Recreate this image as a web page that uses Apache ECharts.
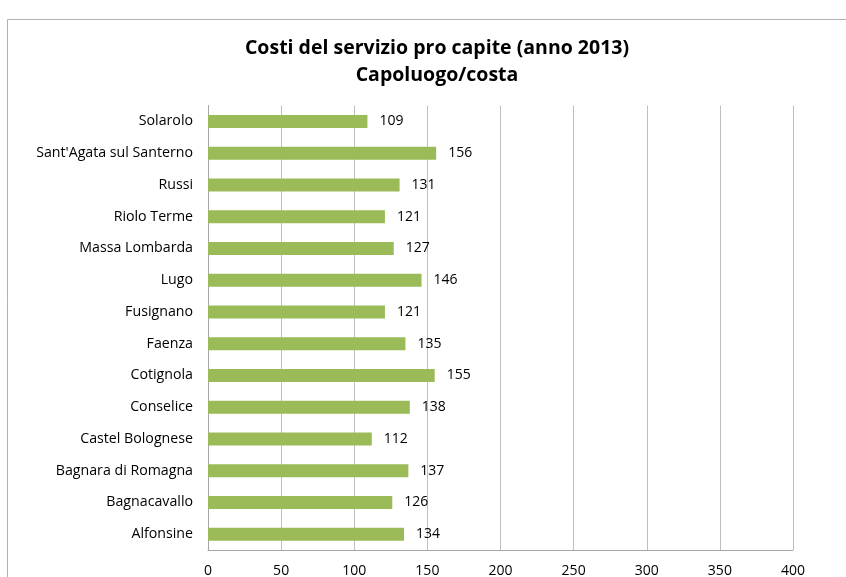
<!DOCTYPE html>
<html><head><meta charset="utf-8">
<script src="https://cdn.jsdelivr.net/npm/echarts@6/dist/echarts.min.js"></script>
<style>html,body{margin:0;padding:0;background:#fff}#c{width:846px;height:577px}</style>
</head><body><div id="c"></div>
<script>
const categories = ["Alfonsine","Bagnacavallo","Bagnara di Romagna","Castel Bolognese","Conselice","Cotignola","Faenza","Fusignano","Lugo","Massa Lombarda","Riolo Terme","Russi","Sant'Agata sul Santerno","Solarolo"];
const values = [134,126,137,112,138,155,135,121,146,127,121,131,156,109];
const titleLines = ["Costi del servizio pro capite (anno 2013)","Capoluogo/costa"];
const FONT = "'Open Sans', 'Noto Sans', sans-serif";
const chart = echarts.init(document.getElementById('c'));
chart.setOption({
  animation:false,
  backgroundColor:'#fff',
  graphic:[{type:'rect',shape:{x:7.5,y:19.5,width:860,height:600},style:{fill:'none',stroke:'#B0B0B0',lineWidth:1},z:-1}],
  title:{text:titleLines.join('\n'),left:432,top:30,textAlign:'center',
    textStyle:{fontFamily:FONT,fontWeight:'bold',fontSize:19.5,color:'#000',lineHeight:27}},
  grid:{left:208,right:53,top:105.5,bottom:27,containLabel:false,outerBoundsMode:'none'},
  xAxis:{type:'value',min:0,max:400,interval:50,
    axisLine:{show:true,lineStyle:{color:'#A6A6A6'}},axisTick:{show:false},
    splitLine:{show:true,lineStyle:{color:'#BFBFBF',width:1}},
    axisLabel:{fontFamily:FONT,fontSize:14,color:'#000',margin:14}},
  yAxis:{type:'category',data:categories,
    axisLine:{show:true,lineStyle:{color:'#A6A6A6'}},axisTick:{show:false},
    axisLabel:{fontFamily:FONT,fontSize:14.2,color:'#000',margin:15}},
  series:[{type:'bar',data:values,barWidth:13,
    itemStyle:{color:'#9BBB59'},
    label:{show:true,position:'right',distance:12,fontFamily:FONT,fontSize:14,color:'#000'}}]
});
</script></body></html>
